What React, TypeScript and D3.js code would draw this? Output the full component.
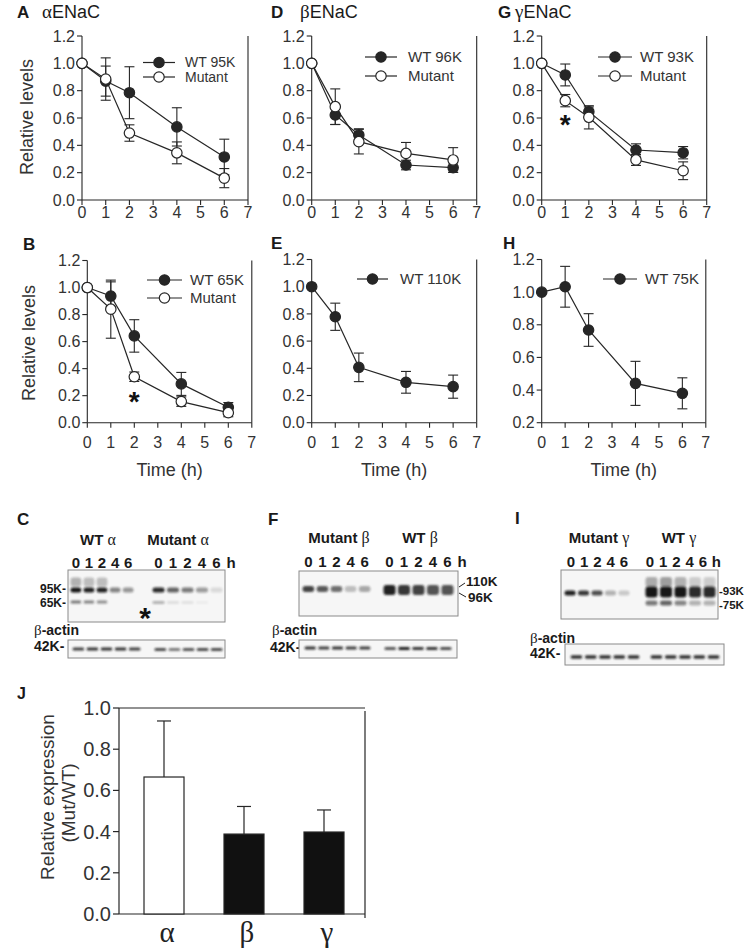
import React from "react";
import * as d3 from "d3";

const SANS = "'Liberation Sans', Arial, Helvetica, sans-serif";
const SERIF = "'Liberation Serif', 'Times New Roman', serif";
const INK = "#262626";

// ---------- time-course data ----------
const hours = [0, 1, 2, 4, 6];
const xTickValues = [0, 1, 2, 3, 4, 5, 6, 7];
const yTicksFull = [0, 0.2, 0.4, 0.6, 0.8, 1.0, 1.2];
const yTicksH = [0.2, 0.4, 0.6, 0.8, 1.0, 1.2];

// A – αENaC 95K
const alphaWT95 = [1.0, 0.87, 0.785, 0.535, 0.315];
const alphaWT95Err = [0, 0.11, 0.19, 0.14, 0.13];
const alphaMut95 = [1.0, 0.885, 0.49, 0.345, 0.16];
const alphaMut95Err = [0, 0.155, 0.06, 0.08, 0.07];
// B – αENaC 65K
const alphaWT65 = [1.0, 0.937, 0.642, 0.287, 0.114];
const alphaWT65Err = [0, 0.105, 0.12, 0.085, 0.035];
const alphaMut65 = [1.0, 0.84, 0.34, 0.156, 0.074];
const alphaMut65Err = [0, 0.215, 0.035, 0.035, 0.03];
// D – βENaC 96K
const betaWT96 = [1.0, 0.622, 0.476, 0.256, 0.237];
const betaWT96Err = [0, 0.07, 0.045, 0.035, 0.035];
const betaMut96 = [1.0, 0.683, 0.427, 0.341, 0.293];
const betaMut96Err = [0, 0.13, 0.09, 0.08, 0.09];
// E – βENaC 110K
const betaWT110 = [1.0, 0.779, 0.407, 0.297, 0.265];
const betaWT110Err = [0, 0.1, 0.105, 0.08, 0.085];
// G – γENaC 93K
const gammaWT93 = [1.0, 0.915, 0.646, 0.366, 0.346];
const gammaWT93Err = [0, 0.08, 0.035, 0.045, 0.045];
const gammaMut93 = [1.0, 0.727, 0.605, 0.293, 0.214];
const gammaMut93Err = [0, 0.045, 0.085, 0.04, 0.065];
// H – γENaC 75K
const gammaWT75 = [1.0, 1.033, 0.768, 0.441, 0.38];
const gammaWT75Err = [0, 0.125, 0.1, 0.135, 0.095];

// ---------- J bar data ----------
const subunits = ["α", "β", "γ"];
const mutWtRatio = [0.665, 0.388, 0.398];
const mutWtRatioErr = [0.272, 0.134, 0.107];
const jTicks = [0, 0.2, 0.4, 0.6, 0.8, 1.0];

// ---------- blot band intensities ----------
const laneHours = ["0", "1", "2", "4", "6"];
const cWT95Band = [1.0, 0.95, 0.95, 0.5, 0.42];
const cWTSmear = [0.3, 0.25, 0.25, 0, 0];
const cWT65Band = [0.55, 0.5, 0.45, 0, 0];
const cMut95Band = [0.9, 0.65, 0.55, 0.4, 0.12];
const cMut65Band = [0.35, 0.12, 0.1, 0.05, 0];
const cActinWT = [0.8, 0.85, 0.85, 0.85, 0.8];
const cActinMut = [0.75, 0.55, 0.7, 0.75, 0.75];
const fMutBand = [0.8, 0.7, 0.6, 0.25, 0.35];
const fWTBand = [0.95, 0.85, 0.8, 0.72, 0.72];
const fActinMut = [0.85, 0.8, 0.85, 0.8, 0.8];
const fActinWT = [0.7, 0.95, 0.85, 0.85, 0.75];
const iMut93Band = [0.95, 0.85, 0.75, 0.3, 0.2];
const iWT93Band = [1.0, 1.0, 1.0, 0.9, 0.9];
const iWT75Band = [0.55, 0.65, 0.5, 0.3, 0.3];
const iActinMut = [0.85, 0.85, 0.85, 0.85, 0.85];
const iActinWT = [0.85, 0.85, 0.85, 0.85, 0.85];

type Series = { values: number[]; errors: number[]; filled: boolean };
type LegendRow = { y: number; text: string; filled: boolean };

function Marker({ cx, cy, filled }: { cx: number; cy: number; filled: boolean }) {
  return (
    <circle cx={cx} cy={cy} r={5.2} fill={filled ? INK : "#fff"} stroke={INK} strokeWidth={1.2} />
  );
}

function LinePanel(props: {
  left: number; right: number; top: number; bottom: number;
  yDomain: [number, number]; yTicks: number[];
  series: Series[];
  legend: { x0: number; x1: number; tx: number; size?: number; rows: LegendRow[] };
  tickLabelGap: number;
  showTime?: boolean;
  stars?: { x: number; y: number }[];
}) {
  const { left, right, top, bottom, yDomain, yTicks, series, legend, tickLabelGap, showTime, stars } = props;
  const x = d3.scaleLinear().domain([0, 7]).range([left, right]);
  const y = d3.scaleLinear().domain(yDomain).range([bottom, top]);
  const line = d3.line<number>().x((_, i) => x(hours[i])).y((v) => y(v));
  const lsize = legend.size || 15;
  return (
    <g>
      <g stroke={INK} strokeWidth={1.1} fill="none">
        <line x1={left} y1={top} x2={left} y2={bottom} />
        <line x1={left} y1={bottom} x2={right} y2={bottom} />
        <line x1={right} y1={top} x2={right} y2={bottom} />
        {yTicks.map((t) => (
          <line key={"yt" + t} x1={left - 5} x2={left} y1={y(t)} y2={y(t)} />
        ))}
        {xTickValues.map((t) => (
          <line key={"xt" + t} x1={x(t)} x2={x(t)} y1={bottom} y2={bottom + 5} />
        ))}
      </g>
      <g fontSize={16} fill="#333">
        {yTicks.map((t) => (
          <text key={"yl" + t} x={left - 7} y={y(t) + 5.7} textAnchor="end">{t.toFixed(1)}</text>
        ))}
        {xTickValues.map((t) => (
          <text key={"xl" + t} x={x(t)} y={bottom + tickLabelGap + 5.7} textAnchor="middle">{t}</text>
        ))}
      </g>
      {showTime && (
        <text x={(left + right) / 2} y={476} fontSize={18} textAnchor="middle" fill="#333">Time (h)</text>
      )}
      {series.map((s, si) => (
        <path key={"p" + si} d={line(s.values) || ""} fill="none" stroke={INK} strokeWidth={1.2} />
      ))}
      {series.map((s, si) => (
        <g key={"e" + si} stroke={INK} strokeWidth={1.1}>
          {s.values.map((v, i) =>
            s.errors[i] > 0 ? (
              <g key={i}>
                <line x1={x(hours[i])} x2={x(hours[i])} y1={y(v - s.errors[i])} y2={y(v + s.errors[i])} />
                <line x1={x(hours[i]) - 5} x2={x(hours[i]) + 5} y1={y(v - s.errors[i])} y2={y(v - s.errors[i])} />
                <line x1={x(hours[i]) - 5} x2={x(hours[i]) + 5} y1={y(v + s.errors[i])} y2={y(v + s.errors[i])} />
              </g>
            ) : null
          )}
        </g>
      ))}
      {series.map((s, si) => (
        <g key={"m" + si}>
          {s.values.map((v, i) => (
            <Marker key={i} cx={x(hours[i])} cy={y(v)} filled={s.filled} />
          ))}
        </g>
      ))}
      {legend.rows.map((r, ri) => (
        <g key={"lg" + ri}>
          <line x1={legend.x0} x2={legend.x1} y1={r.y} y2={r.y} stroke={INK} strokeWidth={1.2} />
          <Marker cx={(legend.x0 + legend.x1) / 2} cy={r.y} filled={r.filled} />
          <text x={legend.tx} y={r.y + lsize * 0.35} fontSize={lsize} fill="#333">{r.text}</text>
        </g>
      ))}
      {(stars || []).map((s, i) => (
        <text key={"st" + i} x={x(s.x)} y={y(s.y) + 16} fontSize={28} fontWeight="bold" textAnchor="middle" fill="#111">*</text>
      ))}
    </g>
  );
}

function YTitle({ x, y, text, size = 18 }: { x: number; y: number; text: string; size?: number }) {
  return (
    <text transform={`translate(${x},${y}) rotate(-90)`} textAnchor="middle" dy="0.35em" fontSize={size} fill="#333">{text}</text>
  );
}

function Bands({ x0, x1, y, h, values, fillOpacityScale = 1 }: { x0: number; x1: number; y: number; h: number; values: number[]; fillOpacityScale?: number }) {
  const s = d3.scaleBand<number>().domain(d3.range(values.length)).range([x0, x1]).paddingInner(0.1);
  return (
    <g>
      {values.map((v, i) =>
        v > 0 ? (
          <rect key={i} x={(s(i) as number) + 0.5} y={y - h / 2} width={s.bandwidth() - 1} height={h} rx={Math.min(h / 2, 3)}
            fill="#141414" opacity={v * fillOpacityScale} filter="url(#blur)" />
        ) : null
      )}
    </g>
  );
}

function LaneLabels({ x0, x1, y, withH }: { x0: number; x1: number; y: number; withH?: boolean }) {
  const s = d3.scaleBand<string>().domain(laneHours).range([x0, x1]).paddingInner(0.1);
  return (
    <g fontSize={15} fontWeight="bold" fill="#1a1a1a" textAnchor="middle">
      {laneHours.map((l) => (
        <text key={l} x={(s(l) as number) + s.bandwidth() / 2} y={y}>{l}</text>
      ))}
      {withH && <text x={x1 + s.step() * 0.55} y={y}>h</text>}
    </g>
  );
}

function Header({ x, y, name, greek }: { x: number; y: number; name: string; greek: string }) {
  return (
    <text x={x} y={y} textAnchor="middle" fontSize={15} fill="#1a1a1a">
      <tspan fontWeight="bold">{name} </tspan>
      <tspan fontFamily={SERIF} fontSize={16}>{greek}</tspan>
    </text>
  );
}

function BetaActin({ x, y }: { x: number; y: number }) {
  return (
    <g fontSize={14} fill="#1a1a1a">
      <text x={x} y={y}>
        <tspan fontFamily={SERIF} fontSize={15}>β</tspan>
        <tspan fontWeight="bold">-actin</tspan>
      </text>
    </g>
  );
}

function PanelTitle({ lx, tx, y, letter, greek }: { lx: number; tx: number; y: number; letter: string; greek?: string }) {
  return (
    <g fill="#1a1a1a">
      <text x={lx} y={y} fontSize={17} fontWeight="bold">{letter}</text>
      {greek && (
        <text x={tx} y={y} fontSize={18}>
          <tspan fontFamily={SERIF} fontSize={19}>{greek}</tspan>ENaC
        </text>
      )}
    </g>
  );
}

function BarPanel() {
  const left = 119, right = 365, top = 708, bottom = 914;
  const y = d3.scaleLinear().domain([0, 1.0]).range([bottom, top]);
  const xb = d3.scaleBand<string>().domain(subunits).range([124, 364]).paddingInner(0.5).paddingOuter(0.25);
  return (
    <g>
      <g stroke={INK} strokeWidth={1.2} fill="none">
        <line x1={left} y1={top} x2={right} y2={top} />
        <line x1={left} y1={top} x2={left} y2={bottom} />
        <line x1={left} y1={bottom} x2={right} y2={bottom} />
        <line x1={right} y1={top + 3} x2={right} y2={bottom + 4} />
        {jTicks.map((t) => (
          <line key={t} x1={left - 6} x2={left} y1={y(t)} y2={y(t)} />
        ))}
      </g>
      <g fontSize={20} fill="#333">
        {jTicks.map((t) => (
          <text key={t} x={left - 8} y={y(t) + 7} textAnchor="end">{t.toFixed(1)}</text>
        ))}
      </g>
      {subunits.map((s, i) => {
        const bx = xb(s) as number;
        const cx = bx + xb.bandwidth() / 2;
        return (
          <g key={s}>
            <line x1={cx} x2={cx} y1={y(mutWtRatio[i])} y2={y(mutWtRatio[i] + mutWtRatioErr[i])} stroke={INK} strokeWidth={1.2} />
            <line x1={cx - 7} x2={cx + 7} y1={y(mutWtRatio[i] + mutWtRatioErr[i])} y2={y(mutWtRatio[i] + mutWtRatioErr[i])} stroke={INK} strokeWidth={1.2} />
            <rect x={bx} y={y(mutWtRatio[i])} width={xb.bandwidth()} height={bottom - y(mutWtRatio[i])}
              fill={i === 0 ? "#fff" : "#111"} stroke={INK} strokeWidth={1.2} />
            <text x={cx + 3} y={942} fontFamily={SERIF} fontSize={29} textAnchor="middle" fill="#222">{s}</text>
          </g>
        );
      })}
      <YTitle x={47} y={797} text="Relative expression" size={19} />
      <YTitle x={68} y={803} text="(Mut/WT)" size={19} />
      <text x={17} y={699} fontSize={16} fontWeight="bold" fill="#1a1a1a">J</text>
    </g>
  );
}

export default function App() {
  return (
    <svg width={745} height={950} style={{ position: "absolute", left: 0, top: 0 }} fontFamily={SANS}>
      <defs>
        <filter id="blur" x="-30%" y="-150%" width="160%" height="400%">
          <feGaussianBlur stdDeviation="0.9" />
        </filter>
      </defs>
      <rect width={745} height={950} fill="#fff" />

      {/* Row 1 */}
      <PanelTitle lx={17} tx={42} y={18} letter="A" greek="α" />
      <PanelTitle lx={271} tx={300} y={18} letter="D" greek="β" />
      <PanelTitle lx={498} tx={515} y={18} letter="G" greek="γ" />
      <YTitle x={27} y={117} text="Relative levels" />
      <LinePanel left={82} right={248} top={36} bottom={200} yDomain={[0, 1.2]} yTicks={yTicksFull} tickLabelGap={12}
        series={[{ values: alphaWT95, errors: alphaWT95Err, filled: true }, { values: alphaMut95, errors: alphaMut95Err, filled: false }]}
        legend={{ x0: 143, x1: 175, tx: 185, size: 14, rows: [{ y: 62.5, text: "WT 95K", filled: true }, { y: 77, text: "Mutant", filled: false }] }} />
      <LinePanel left={311.7} right={476.7} top={36} bottom={200} yDomain={[0, 1.2]} yTicks={yTicksFull} tickLabelGap={12}
        series={[{ values: betaWT96, errors: betaWT96Err, filled: true }, { values: betaMut96, errors: betaMut96Err, filled: false }]}
        legend={{ x0: 365, x1: 397, tx: 408, rows: [{ y: 57, text: "WT 96K", filled: true }, { y: 76, text: "Mutant", filled: false }] }} />
      <LinePanel left={541.7} right={706.7} top={36} bottom={200} yDomain={[0, 1.2]} yTicks={yTicksFull} tickLabelGap={12}
        series={[{ values: gammaWT93, errors: gammaWT93Err, filled: true }, { values: gammaMut93, errors: gammaMut93Err, filled: false }]}
        legend={{ x0: 598, x1: 632, tx: 640, rows: [{ y: 57, text: "WT 93K", filled: true }, { y: 76, text: "Mutant", filled: false }] }}
        stars={[{ x: 1, y: 0.598 }]} />

      {/* Row 2 */}
      <PanelTitle lx={23} tx={0} y={250} letter="B" />
      <PanelTitle lx={271} tx={0} y={249} letter="E" />
      <PanelTitle lx={503} tx={0} y={249} letter="H" />
      <YTitle x={29} y={343} text="Relative levels" />
      <LinePanel left={87.3} right={251.8} top={260.5} bottom={422.7} yDomain={[0, 1.2]} yTicks={yTicksFull} tickLabelGap={20} showTime
        series={[{ values: alphaWT65, errors: alphaWT65Err, filled: true }, { values: alphaMut65, errors: alphaMut65Err, filled: false }]}
        legend={{ x0: 147, x1: 182, tx: 190, rows: [{ y: 280, text: "WT 65K", filled: true }, { y: 298, text: "Mutant", filled: false }] }}
        stars={[{ x: 2, y: 0.205 }]} />
      <LinePanel left={311.7} right={476.7} top={259.5} bottom={422.7} yDomain={[0, 1.2]} yTicks={yTicksFull} tickLabelGap={20} showTime
        series={[{ values: betaWT110, errors: betaWT110Err, filled: true }]}
        legend={{ x0: 357, x1: 388, tx: 400, rows: [{ y: 279, text: "WT 110K", filled: true }] }} />
      <LinePanel left={541.7} right={705.8} top={259.5} bottom={422.7} yDomain={[0.2, 1.2]} yTicks={yTicksH} tickLabelGap={20} showTime
        series={[{ values: gammaWT75, errors: gammaWT75Err, filled: true }]}
        legend={{ x0: 603, x1: 637, tx: 645, rows: [{ y: 279, text: "WT 75K", filled: true }] }} />

      {/* C blot */}
      <text x={17} y={525} fontSize={17} fontWeight="bold" fill="#1a1a1a">C</text>
      <Header x={98} y={545} name="WT" greek="α" />
      <Header x={178} y={545} name="Mutant" greek="α" />
      <LaneLabels x0={70} x1={134} y={568} />
      <LaneLabels x0={152} x1={223} y={568} withH />
      <rect x={68} y={570} width={157} height={52} fill="#f6f6f6" stroke="#8a8a8a" strokeWidth={1} />
      <Bands x0={70} x1={134} y={582} h={9} values={cWTSmear} />
      <Bands x0={70} x1={134} y={590} h={5} values={cWT95Band} />
      <Bands x0={70} x1={134} y={602} h={3} values={cWT65Band} />
      <Bands x0={152} x1={223} y={590} h={5} values={cMut95Band} />
      <Bands x0={152} x1={223} y={602.5} h={2.5} values={cMut65Band} />
      <g fontSize={12} fontWeight="bold" fill="#1a1a1a" textAnchor="end">
        <text x={66} y={593}>95K-</text>
        <text x={66} y={607}>65K-</text>
      </g>
      <text x={145} y={628} fontSize={30} fontWeight="bold" textAnchor="middle" fill="#111">*</text>
      <BetaActin x={34} y={635} />
      <text x={34} y={651} fontSize={14} fontWeight="bold" fill="#1a1a1a">42K-</text>
      <rect x={68} y={640} width={157} height={18} fill="#f6f6f6" stroke="#8a8a8a" strokeWidth={1} />
      <Bands x0={72} x1={141} y={649} h={3} values={cActinWT} />
      <Bands x0={154} x1={223} y={649.5} h={3} values={cActinMut} />

      {/* F blot */}
      <text x={268} y={525} fontSize={17} fontWeight="bold" fill="#1a1a1a">F</text>
      <Header x={339} y={543} name="Mutant" greek="β" />
      <Header x={420} y={543} name="WT" greek="β" />
      <LaneLabels x0={302} x1={371} y={567} />
      <LaneLabels x0={383} x1={454} y={567} withH />
      <rect x={299} y={571} width={159} height={45} fill="#f6f6f6" stroke="#8a8a8a" strokeWidth={1} />
      <Bands x0={302} x1={371} y={589} h={6} values={fMutBand} />
      <Bands x0={383} x1={454} y={590} h={10} values={fWTBand} />
      <g stroke="#222" strokeWidth={1}>
        <line x1={459} y1={587} x2={465} y2={583} />
        <line x1={459} y1={593} x2={466} y2={597} />
      </g>
      <g fontSize={13.5} fontWeight="bold" fill="#1a1a1a">
        <text x={466} y={586}>110K</text>
        <text x={468} y={602}>96K</text>
      </g>
      <BetaActin x={272} y={635} />
      <text x={270} y={652} fontSize={14} fontWeight="bold" fill="#1a1a1a">42K-</text>
      <rect x={299} y={640} width={158} height={18} fill="#f6f6f6" stroke="#8a8a8a" strokeWidth={1} />
      <Bands x0={304} x1={371} y={648} h={3} values={fActinMut} />
      <Bands x0={384} x1={452} y={648.5} h={3} values={fActinWT} />

      {/* I blot */}
      <text x={515} y={524} fontSize={17} fontWeight="bold" fill="#1a1a1a">I</text>
      <Header x={599} y={543} name="Mutant" greek="γ" />
      <Header x={679} y={543} name="WT" greek="γ" />
      <LaneLabels x0={565} x1={630} y={567} />
      <LaneLabels x0={644} x1={709} y={567} withH />
      <rect x={561} y={570} width={157} height={49} fill="#f6f6f6" stroke="#8a8a8a" strokeWidth={1} />
      <Bands x0={564} x1={630} y={593} h={5} values={iMut93Band} />
      <Bands x0={645} x1={716} y={582} h={10} values={iWT75Band} fillOpacityScale={0.6} />
      <Bands x0={645} x1={716} y={592} h={11} values={iWT93Band} />
      <Bands x0={645} x1={716} y={603} h={5} values={iWT75Band} />
      <g fontSize={11.5} fontWeight="bold" fill="#1a1a1a">
        <text x={719} y={595}>-93K</text>
        <text x={719} y={608.5}>-75K</text>
      </g>
      <BetaActin x={530} y={643} />
      <text x={530} y={658} fontSize={14} fontWeight="bold" fill="#1a1a1a">42K-</text>
      <rect x={565} y={644} width={159} height={21} fill="#f6f6f6" stroke="#8a8a8a" strokeWidth={1} />
      <Bands x0={570} x1={640} y={657} h={3.5} values={iActinMut} />
      <Bands x0={650} x1={720} y={657} h={3.5} values={iActinWT} />

      <BarPanel />
    </svg>
  );
}
